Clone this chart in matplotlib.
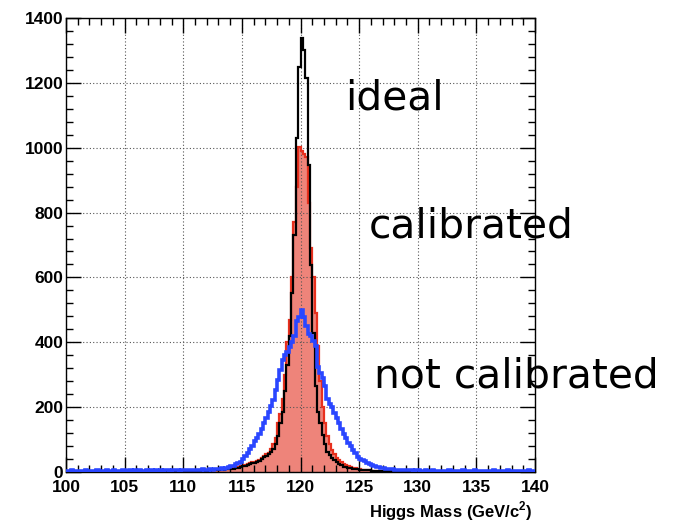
import numpy as np
import matplotlib
matplotlib.use("Agg")
import matplotlib.pyplot as plt
from matplotlib.ticker import MultipleLocator

plt.rcParams['font.family'] = ['Liberation Sans', 'DejaVu Sans']
plt.rcParams['mathtext.fontset'] = 'custom'
plt.rcParams['mathtext.rm'] = 'Liberation Sans'
plt.rcParams['mathtext.bf'] = 'Liberation Sans:bold'

# Histogram binning: 200 bins of 0.2 GeV from 100 to 140
x_min, x_max, n_bins = 100.0, 140.0, 200

# "not calibrated" (blue)
not_calibrated = [
    4, 3, 5, 3, 4, 2, 4, 3, 5, 4,
    3, 4, 3, 5, 4, 3, 4, 5, 3, 4,
    5, 4, 3, 4, 5, 4, 3, 5, 4, 5,
    4, 5, 4, 3, 5, 4, 6, 4, 5, 4,
    5, 4, 6, 5, 4, 5, 6, 5, 4, 6,
    5, 6, 5, 7, 6, 5, 7, 6, 8, 6,
    7, 8, 7, 9, 8, 10, 11, 10, 13, 15,
    17, 20, 24, 28, 32, 40, 48, 58, 70, 80,
    95, 105, 118, 132, 150, 165, 185, 205, 222, 253,
    284, 315, 345, 360, 370, 385, 400, 420, 465, 478,
    500, 478, 450, 425, 420, 405, 390, 325, 305, 290,
    265, 225, 210, 200, 182, 165, 150, 132, 118, 105,
    90, 80, 68, 60, 47, 40, 37, 33, 27, 24,
    22, 19, 16, 15, 13, 12, 10, 9, 8, 8,
    7, 6, 7, 6, 5, 6, 5, 5, 4, 5,
    5, 4, 4, 5, 3, 4, 5, 4, 3, 4,
    4, 3, 4, 5, 4, 3, 4, 4, 3, 5,
    3, 4, 4, 3, 5, 4, 3, 4, 4, 3,
    4, 3, 5, 4, 3, 4, 3, 4, 5, 3,
    4, 3, 4, 3, 4, 4, 3, 5, 3, 4,
]

# "ideal" (black)
ideal = [
    0, 0, 1, 0, 0, 0, 1, 0, 0, 1,
    0, 1, 0, 0, 1, 0, 0, 1, 0, 1,
    1, 0, 1, 0, 1, 1, 0, 1, 1, 0,
    1, 1, 0, 1, 1, 2, 1, 1, 2, 1,
    1, 2, 1, 2, 2, 1, 2, 2, 3, 2,
    2, 3, 2, 3, 3, 2, 3, 4, 3, 4,
    4, 4, 5, 5, 6, 6, 7, 7, 8, 8,
    9, 10, 12, 13, 15, 17, 19, 22, 25, 27,
    28, 31, 35, 40, 45, 50, 55, 63, 72, 85,
    110, 150, 185, 250, 330, 420, 552, 731, 1030, 1250,
    1338, 1300, 1214, 947, 638, 430, 265, 185, 150, 115,
    85, 63, 52, 43, 36, 30, 26, 21, 16, 14,
    12, 11, 10, 9, 8, 7, 6, 6, 5, 5,
    4, 4, 3, 3, 3, 2, 2, 2, 2, 1,
    2, 1, 1, 2, 1, 1, 1, 0, 1, 1,
    1, 0, 1, 0, 0, 1, 0, 0, 1, 0,
    0, 1, 0, 0, 0, 1, 0, 0, 0, 0,
    0, 0, 1, 0, 0, 0, 0, 1, 0, 0,
    0, 0, 0, 1, 0, 0, 0, 0, 0, 0,
    0, 0, 0, 0, 1, 0, 0, 0, 0, 0,
]

# "calibrated" (red filled)
calibrated = [
    0, 1, 0, 0, 1, 0, 0, 1, 0, 0,
    1, 0, 0, 1, 0, 1, 0, 0, 1, 0,
    0, 1, 1, 0, 1, 0, 1, 1, 0, 1,
    1, 1, 2, 1, 1, 1, 2, 1, 2, 2,
    2, 1, 2, 2, 3, 2, 2, 3, 2, 3,
    3, 3, 4, 3, 4, 4, 5, 4, 5, 5,
    5, 6, 6, 7, 7, 8, 8, 9, 10, 10,
    11, 12, 14, 15, 17, 19, 21, 24, 27, 30,
    32, 35, 38, 43, 48, 54, 60, 70, 85, 105,
    150, 180, 225, 300, 400, 470, 600, 770, 880, 1003,
    990, 980, 972, 830, 690, 600, 490, 390, 280, 200,
    150, 110, 85, 68, 55, 43, 37, 30, 26, 22,
    18, 15, 13, 11, 9, 8, 7, 6, 5, 5,
    4, 4, 3, 3, 3, 2, 2, 2, 2, 2,
    1, 2, 1, 1, 1, 1, 0, 1, 1, 0,
    1, 0, 0, 1, 0, 0, 1, 0, 0, 0,
    0, 0, 1, 0, 0, 0, 0, 1, 0, 0,
    0, 1, 0, 0, 0, 0, 1, 0, 0, 0,
    0, 0, 0, 0, 1, 0, 0, 0, 0, 0,
    0, 0, 0, 0, 0, 0, 1, 0, 0, 0,
]

x_ticks = [100, 105, 110, 115, 120, 125, 130, 135, 140]
y_ticks = [0, 200, 400, 600, 800, 1000, 1200, 1400]
x_label = r'Higgs Mass (GeV/c$^{\mathbf{2}}$)'
labels = ['ideal', 'calibrated', 'not calibrated']

edges = np.linspace(x_min, x_max, n_bins + 1)

fig = plt.figure(figsize=(6.75, 5.23), dpi=100)
W, H = 675, 523
ax = fig.add_axes([66 / W, 1 - 472 / H, (535 - 66) / W, (472 - 18) / H])

ax.stairs(calibrated, edges, fill=True, color='#ee847a', zorder=1, baseline=0)
ax.stairs(calibrated, edges, color='#e8301e', linewidth=1.6, zorder=2, baseline=None)
ax.stairs(ideal, edges, color='black', linewidth=1.6, zorder=3, baseline=None)
ax.stairs(not_calibrated, edges, color='#2a46ff', linewidth=2.6, zorder=4, baseline=None)

ax.set_xlim(x_min, x_max)
ax.set_ylim(0, 1400)
ax.set_xticks(x_ticks)
ax.set_yticks(y_ticks)
ax.xaxis.set_minor_locator(MultipleLocator(1))
ax.yaxis.set_minor_locator(MultipleLocator(40))
ax.tick_params(which='both', direction='in', top=True, right=True, width=1)
ax.tick_params(which='major', length=11, labelsize=12.5)
ax.tick_params(axis='x', which='major', pad=6)
ax.tick_params(axis='y', which='major', pad=2)
ax.tick_params(which='minor', length=5)
for lab in ax.get_xticklabels() + ax.get_yticklabels():
    lab.set_fontweight('bold')

ax.set_axisbelow('line')
ax.grid(True, which='major', linestyle=(0, (1, 2)), color='#555555', linewidth=0.8)
for s in ax.spines.values():
    s.set_linewidth(1.0)

fig.text(533 / W, 1 - 511 / H, x_label, ha='right', va='center',
         fontsize=12, fontweight='bold')

big = dict(fontsize=29.3, va='baseline', ha='left', family=['DejaVu Sans'])
fig.text(345 / W, 1 - 109 / H, labels[0], **big)
fig.text(369 / W, 1 - 238 / H, labels[1], **big)
fig.text(374 / W, 1 - 387 / H, labels[2], **big)

fig.savefig('out.png', dpi=100)
